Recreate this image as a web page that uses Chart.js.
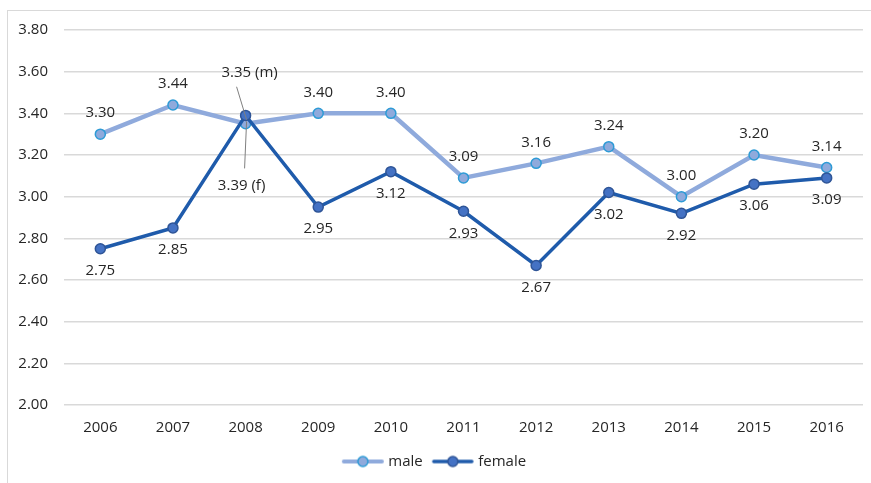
<!DOCTYPE html>
<html>
<head>
<meta charset="utf-8">
<script src="https://cdn.jsdelivr.net/npm/chart.js@4"></script>
<style>
    html, body { margin: 0; padding: 0; background: #fff; }
    #frame {
        position: absolute; left: 7px; top: 10px;
        width: 864px; height: 473px;
        border-left: 1px solid #d9d9d9; border-top: 1px solid #d9d9d9;
    }
    #chart { display: block; }
</style>
</head>
<body>
<div id="frame"><canvas id="chart" width="863" height="472"></canvas></div>
<script>
    const years = ['2006', '2007', '2008', '2009', '2010', '2011', '2012', '2013', '2014', '2015', '2016'];
    const maleValues = [3.30, 3.44, 3.35, 3.40, 3.40, 3.09, 3.16, 3.24, 3.00, 3.20, 3.14];
    const femaleValues = [2.75, 2.85, 3.39, 2.95, 3.12, 2.93, 2.67, 3.02, 2.92, 3.06, 3.09];
    const yMin = 2.0, yMax = 3.8, yStep = 0.2;

    const FONT = '"Open Sans", "Liberation Sans", sans-serif';
    const TEXT = '#262626';

    // legend marker: short line with a dot, like the office-style legend
    function legendIcon(lineColor, lineWidth, fill, border) {
        const c = document.createElement('canvas');
        c.width = 44; c.height = 14;
        const g = c.getContext('2d');
        g.strokeStyle = lineColor; g.lineWidth = lineWidth; g.lineCap = 'round';
        g.beginPath(); g.moveTo(3, 7); g.lineTo(41, 7); g.stroke();
        g.beginPath(); g.arc(22, 7, 5, 0, Math.PI * 2);
        g.fillStyle = fill; g.fill();
        g.strokeStyle = border; g.lineWidth = 1.5; g.stroke();
        return c;
    }

    // value labels: male above, female below, 2008 pulled out with leader lines
    const special = {
        '0:2': { text: '3.35 (m)', dx: 4, dy: -51, from: [-9, -37], to: [1, -4] },
        '1:2': { text: '3.39 (f)', dx: -4, dy: 70, from: [-1, 53], to: [1, 6] },
    };
    const valueLabels = {
        id: 'valueLabels',
        afterDatasetsDraw(chart) {
            const ctx = chart.ctx;
            ctx.save();
            ctx.font = '15px ' + FONT;
            ctx.fillStyle = TEXT;
            ctx.textAlign = 'center';
            ctx.textBaseline = 'middle';
            chart.data.datasets.forEach((ds, di) => {
                const meta = chart.getDatasetMeta(di);
                meta.data.forEach((pt, i) => {
                    const sp = special[di + ':' + i];
                    if (sp) {
                        ctx.strokeStyle = '#7f7f7f';
                        ctx.lineWidth = 1;
                        ctx.beginPath();
                        ctx.moveTo(pt.x + sp.from[0], pt.y + sp.from[1]);
                        ctx.lineTo(pt.x + sp.to[0], pt.y + sp.to[1]);
                        ctx.stroke();
                        ctx.fillText(sp.text, pt.x + sp.dx, pt.y + sp.dy);
                        return;
                    }
                    const off = di === 0 ? -21 : 22;
                    ctx.fillText(ds.data[i].toFixed(2), pt.x, pt.y + off);
                });
            });
            ctx.restore();
        }
    };

    const icons = [
        legendIcon('#8faadc', 4, '#8faadc', '#2e9bd6'),
        legendIcon('#1f5bab', 3.5, '#4472c4', '#2f5597'),
    ];

    new Chart(document.getElementById('chart'), {
        type: 'line',
        data: {
            labels: years,
            datasets: [{
                label: 'male',
                data: maleValues,
                borderColor: '#8faadc',
                borderWidth: 4.5,
                pointBackgroundColor: '#8faadc',
                pointBorderColor: '#2e9bd6',
                pointBorderWidth: 1.5,
                pointRadius: 5,
                pointStyle: 'circle',
                tension: 0,
                order: 1,
            }, {
                label: 'female',
                data: femaleValues,
                borderColor: '#1f5bab',
                borderWidth: 3.5,
                pointBackgroundColor: '#4472c4',
                pointBorderColor: '#2f5597',
                pointBorderWidth: 1.5,
                pointRadius: 5,
                pointStyle: 'circle',
                tension: 0,
                order: 0,
            }]
        },
        options: {
            responsive: false,
            animation: false,
            layout: { padding: { top: 19, right: 8, bottom: 4, left: 0 } },
            plugins: {
                legend: {
                    position: 'bottom',
                    labels: {
                        usePointStyle: true,
                        pointStyleWidth: 36,
                        boxHeight: 14,
                        padding: 12,
                        color: TEXT,
                        font: { family: FONT, size: 15 },
                        generateLabels(chart) {
                            return chart.data.datasets.map((ds, i) => ({
                                text: ds.label,
                                pointStyle: icons[i],
                                datasetIndex: i,
                                fontColor: TEXT,
                                lineWidth: 0,
                                hidden: false,
                            }));
                        }
                    }
                },
                tooltip: { enabled: false },
            },
            scales: {
                x: {
                    offset: true,
                    grid: { display: false },
                    border: { display: false },
                    ticks: { color: TEXT, font: { family: FONT, size: 15 }, padding: 6, maxRotation: 0 },
                    afterFit(scale) { scale.height = 37; },
                },
                y: {
                    min: yMin,
                    max: yMax,
                    grid: { color: '#d9d9d9', lineWidth: 1.5, drawTicks: false },
                    border: { display: false },
                    ticks: {
                        stepSize: yStep,
                        padding: 16,
                        color: TEXT,
                        font: { family: FONT, size: 15 },
                        callback: v => v.toFixed(2),
                    },
                    afterFit(scale) {
                        scale.width = 56;
                        scale.paddingTop = 0;
                        scale.paddingBottom = 0;
                    },
                }
            }
        },
        plugins: [valueLabels]
    });
</script>
</body>
</html>
